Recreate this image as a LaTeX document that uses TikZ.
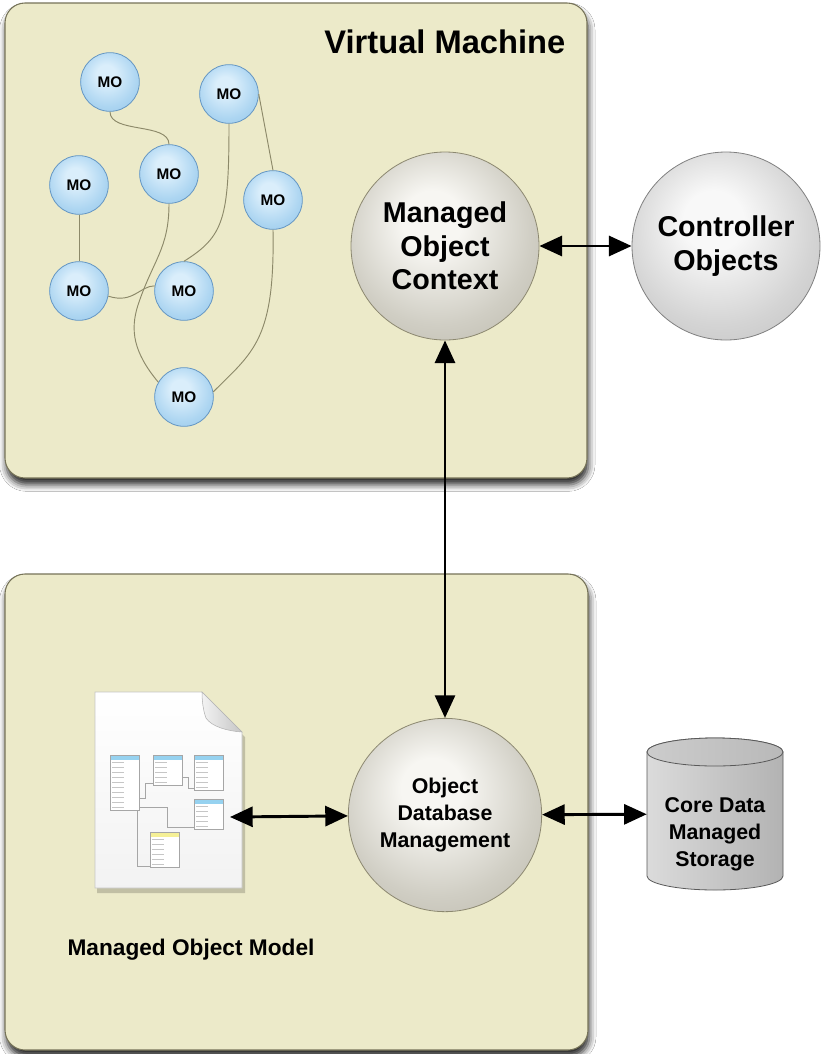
\documentclass[tikz,border=0pt]{standalone}
\usepackage{fontspec}
\setmainfont{Liberation Sans}
\usetikzlibrary{arrows.meta,shadows.blur}
\definecolor{panelfill}{RGB}{236,234,201}
\definecolor{panelline}{RGB}{118,115,88}
\definecolor{wirecol}{RGB}{140,137,105}
\definecolor{moline}{RGB}{100,150,195}
\definecolor{molight}{RGB}{218,238,251}
\definecolor{momid}{RGB}{172,213,241}
\definecolor{modark}{RGB}{128,184,228}
\definecolor{orbline}{RGB}{140,136,112}
\definecolor{orblight}{RGB}{247,246,242}
\definecolor{orbmid}{RGB}{208,206,196}
\definecolor{orbdark}{RGB}{166,162,146}
\definecolor{greylight}{RGB}{248,248,248}
\definecolor{greymid}{RGB}{212,212,212}
\definecolor{greydark}{RGB}{172,172,172}
\definecolor{schblue}{RGB}{150,210,240}
\definecolor{schyellow}{RGB}{245,240,150}
\pgfdeclareradialshading{moball}{\pgfpoint{-4bp}{8bp}}{color(0bp)=(molight); color(8bp)=(molight); color(25bp)=(momid); color(50bp)=(modark)}
\pgfdeclareradialshading{orbball}{\pgfpoint{-4bp}{8bp}}{color(0bp)=(orblight); color(8bp)=(orblight); color(25bp)=(orbmid); color(50bp)=(orbdark)}
\pgfdeclareradialshading{greyball}{\pgfpoint{-4bp}{8bp}}{color(0bp)=(greylight); color(8bp)=(greylight); color(25bp)=(greymid); color(50bp)=(greydark)}
\tikzstyle{panel}=[draw=panelline, line width=0.8pt, fill=panelfill, rounded corners=15pt, blur shadow={shadow xshift=1pt, shadow yshift=-5pt, shadow blur radius=5pt, shadow opacity=85}]
\tikzstyle{mo}=[circle, draw=moline, line width=0.6pt, shading=moball, minimum size=44pt, inner sep=0pt, font=\bfseries\fontsize{11.5}{13}\selectfont]
\tikzstyle{orb}=[circle, draw=orbline, line width=0.6pt, shading=orbball, minimum size=141pt, inner sep=0pt, align=center, font=\bfseries\fontsize{21.5}{25}\selectfont]
\tikzstyle{wire}=[draw=wirecol, line width=0.7pt]
\tikzstyle{link}=[draw=black, line width=2.2pt, arrows={Triangle[length=17pt,width=15pt,fill=black]-Triangle[length=17pt,width=15pt,fill=black]}]
\tikzstyle{schema}=[draw=gray!70, line width=0.3pt]

\begin{document}
\begin{tikzpicture}[x=0.75pt,y=-0.75pt]
\useasboundingbox (0,0) rectangle (825,1054);
\fill[white] (0,0) rectangle (825,1054);
\draw[panel] (5,3) rectangle (587,478);
\draw[panel] (5,574) rectangle (588,1050);
\node[anchor=east, font=\bfseries\fontsize{24.5}{29}\selectfont] (vm) at (570,42) {Virtual Machine};

\node[mo] (mo1) at (110,82) {MO};
\node[mo] (mo2) at (229,94) {MO};
\node[mo] (mo3) at (79,185) {MO};
\node[mo] (mo4) at (169,174) {MO};
\node[mo] (mo5) at (273,200) {MO};
\node[mo] (mo6) at (79,291) {MO};
\node[mo] (mo7) at (184,291) {MO};
\node[mo] (mo8) at (184,397) {MO};
\draw[wire] (mo1.south) .. controls +(0,22) and +(0,-22) .. (mo4.north);
\draw[wire] (mo2.south) .. controls +(0,95) and +(40,-25) .. (mo7.north);
\draw[wire] (mo2.east) -- (mo5.north);
\draw[wire] (mo3) -- (mo6);
\draw[wire] (mo4.south) .. controls +(0,45) and +(15,-45) .. (138,305) .. controls +(-8,25) and +(-25,-30) .. (mo8.150);
\draw[wire] (mo6.-10) .. controls +(25,8) and +(-15,0) .. (mo7.170);
\draw[wire] (mo5.south) .. controls +(2,110) and +(40,-40) .. (mo8.10);

\node[orb] (moc) at (445,246) {Managed\\Object\\Context};
\node[orb, shading=greyball, draw=gray] (co) at (726,246) {Controller\\Objects};
\node[orb, minimum size=145pt, font=\bfseries\fontsize{16}{20.5}\selectfont] (odm) at (445,815) {Object\\Database\\Management};

\node[minimum width=102pt, minimum height=114pt, inner sep=0pt] (cdms) at (715,814) {};
\draw[draw=gray!70!black, line width=0.6pt, left color=gray!28, right color=gray!60] (647,752) -- (647,876) arc[start angle=180, end angle=0, x radius=68, y radius=14] -- (783,752) arc[start angle=0, end angle=-180, x radius=68, y radius=14] -- cycle;
\draw[draw=gray!70!black, line width=0.6pt, left color=gray!40, right color=gray!55] (715,752) ellipse[x radius=68, y radius=14];
\node[align=center, font=\bfseries\fontsize{16}{20.2}\selectfont] (cdmstext) at ([yshift=-15pt]cdms.center) {Core Data\\Managed\\Storage};

\fill[black, opacity=0.18] (97,696) -- (204,696) -- (245,737) -- (245,893) -- (97,893) -- cycle;
\draw[draw=gray!45, top color=white, bottom color=gray!10] (95,692) -- (202,692) -- (242,732) -- (242,888) -- (95,888) -- cycle;
\draw[draw=gray!60, left color=gray!10, right color=gray!45] (202,692) -- (242,732) .. controls (228,731) and (212,727) .. (206,718) .. controls (203,710) and (202,700) .. cycle;
\foreach \x/\y/\n/\c in {110/755/10/schblue, 153/755/5/schblue, 194/755/6/schblue, 194/799/5/schblue, 150/832/6/schyellow} {
  \fill[white] (\x,\y) rectangle +(29,5+5*\n);
  \fill[\c] (\x,\y) rectangle +(29,5);
  \draw[schema] (\x,\y) rectangle +(29,5+5*\n);
  \foreach \k in {1,...,\n}
    \draw[gray!45, line width=0.5pt] ({\x+2},{\y+2.5+5*\k}) -- +(12,0);
}
\draw[schema] (139,798) -| (145,783) -- (153,783);
\draw[schema] (182,777) -- (188,777) |- (194,788);
\draw[schema] (139,807) -| (167,827) -- (194,827);
\draw[schema] (137,810) |- (150,866);
\coordinate (momtip) at (230,817);
\node[font=\bfseries\fontsize{17}{20}\selectfont] (mom) at (191,950) {Managed Object Model};

\draw[link] (moc) -- (co);
\draw[link] (moc) -- (odm);
\draw[link] (momtip) -- (odm);
\draw[link] (odm) -- (cdms);
\end{tikzpicture}
\end{document}
